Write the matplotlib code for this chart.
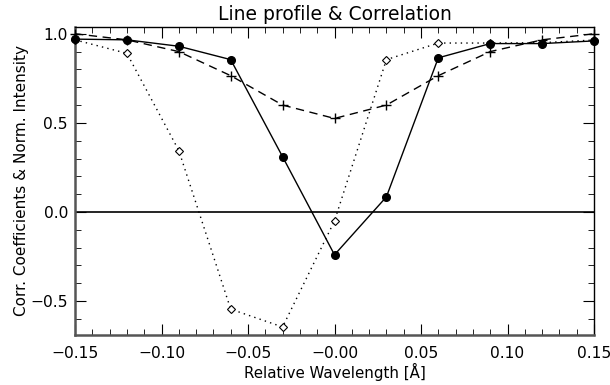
import matplotlib
matplotlib.use("Agg")
import matplotlib.pyplot as plt
from matplotlib.ticker import MultipleLocator, FuncFormatter

# Data
wavelength = [-0.15, -0.12, -0.09, -0.06, -0.03, 0.0, 0.03, 0.06, 0.09, 0.12, 0.15]
corr_solid = [0.97, 0.966, 0.93, 0.855, 0.31, -0.24, 0.085, 0.865, 0.945, 0.945, 0.96]
profile = [1.0, 0.966, 0.90, 0.765, 0.60, 0.525, 0.60, 0.765, 0.90, 0.966, 1.0]
corr_dotted = [0.966, 0.89, 0.345, -0.545, -0.645, -0.05, 0.855, 0.948, 0.948, 0.95, 0.965]


def idl_fmt(ndec):
    # IDL-style labels: real minus sign, and "-0.00" at the centre
    def f(v, pos):
        s = f"{v:.{ndec}f}"
        if abs(v) < 1e-9 and ndec == 2:
            s = "-" + f"{0:.{ndec}f}"
        return s.replace("-", "\u2212")
    return FuncFormatter(f)


fig = plt.figure(figsize=(6.1, 3.85), dpi=100)
ax = fig.add_axes([75 / 610, 1 - 335 / 385, (594 - 75) / 610, (335 - 27) / 385])

ax.axhline(0.0, color="black", linewidth=1.2)
ax.plot(wavelength, corr_dotted, color="black", linewidth=1.0, linestyle=(0, (1, 3)),
        marker="D", markersize=4, markerfacecolor="white", markeredgewidth=0.8,
        clip_on=False, zorder=3)
ax.plot(wavelength, profile, color="black", linewidth=1.0, linestyle=(0, (6, 4)),
        marker="+", markersize=6.5, markeredgewidth=1.0, clip_on=False, zorder=4)
ax.plot(wavelength, corr_solid, color="black", linewidth=1.0,
        marker="o", markersize=5.5, clip_on=False, zorder=5)

ax.set_xlim(-0.15, 0.15)
ax.set_ylim(-0.69, 1.038)
ax.xaxis.set_major_locator(MultipleLocator(0.05))
ax.xaxis.set_minor_locator(MultipleLocator(0.01))
ax.yaxis.set_major_locator(MultipleLocator(0.5))
ax.yaxis.set_minor_locator(MultipleLocator(0.1))
ax.xaxis.set_major_formatter(idl_fmt(2))
ax.yaxis.set_major_formatter(idl_fmt(1))
ax.tick_params(which="both", direction="in", top=True, right=True, labelsize=11.2)
ax.tick_params(which="major", length=8)
ax.tick_params(axis="x", which="major", pad=8)
ax.tick_params(axis="y", which="major", pad=5)
ax.tick_params(which="minor", length=4)
for s in ax.spines.values():
    s.set_linewidth(1.0)
ax.spines["left"].set_linewidth(1.8)
ax.spines["bottom"].set_linewidth(1.8)
ax.spines["left"].set_color("#555555")
ax.spines["bottom"].set_color("#555555")

ax.set_title("Line profile & Correlation", fontsize=13.5, pad=5)
ax.set_xlabel("Relative Wavelength [Å]", fontsize=10.8, labelpad=1)
ax.set_ylabel("Corr. Coefficients & Norm. Intensity", fontsize=11, labelpad=1)

fig.savefig("out.png", dpi=100)
